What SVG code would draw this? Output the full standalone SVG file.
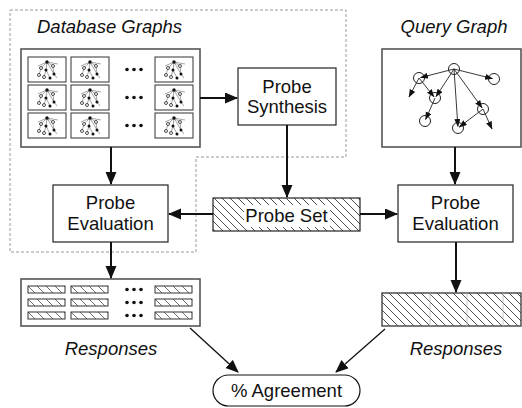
<svg xmlns="http://www.w3.org/2000/svg" xmlns:xlink="http://www.w3.org/1999/xlink" width="522" height="408" viewBox="0 0 522 408">
<style>
text{font-family:"Liberation Sans",Arial,sans-serif;font-size:18.5px;fill:#111}
.it{font-style:italic}
.box{fill:#fff;stroke:#222;stroke-width:1.2}
.gbox{fill:#fff;stroke:#555;stroke-width:1.6}
.tb{fill:#fff;stroke:#333;stroke-width:1}
.arr{stroke:#111;stroke-width:2;fill:none;marker-end:url(#ah)}
.arr2{stroke:#111;stroke-width:1.3;fill:none;marker-end:url(#ah)}
.qe{stroke:#222;stroke-width:0.9;fill:none;marker-end:url(#qa)}
.qn{fill:none;stroke:#222;stroke-width:1}
.te{stroke:#666;stroke-width:0.6;fill:none}
.dot{fill:#111}
</style>
<defs>
<marker id="ah" markerUnits="userSpaceOnUse" markerWidth="13" markerHeight="12" refX="12" refY="5.5" orient="auto"><path d="M0,0 L13,5.5 L0,11 z" fill="#111"/></marker>
<marker id="qa" markerUnits="userSpaceOnUse" markerWidth="8" markerHeight="7" refX="7.5" refY="3" orient="auto"><path d="M0,0 L8,3 L0,6 z" fill="#111"/></marker>
<pattern id="hatch" width="8" height="8" patternUnits="userSpaceOnUse"><path d="M-1,-1 L9,9 M-1,7 L1,9 M7,-1 L9,1" stroke="#222" stroke-width="0.8"/></pattern>
<pattern id="hatch2" width="9" height="9" patternUnits="userSpaceOnUse"><path d="M-1,-1 L10,10 M-1,8 L1,10 M8,-1 L10,1" stroke="#333" stroke-width="0.7"/></pattern>
<g id="thumb">
<rect class="tb" x="0" y="0" width="38" height="25"/>
<path class="te" d="M19,5 L13,11 M19,5 L25,9 M19,5 L18,13 M19,5 L26,17 M19,5 L10,9 M19,5 L30,7 M13,11 L11,18 M18,13 L16,20 M25,9 L26,17 M18,13 L22,21 M26,17 L29,21"/>
<circle cx="19" cy="5" r="1.7" class="dot"/>
<circle cx="13" cy="11" r="1.5" fill="#fff" stroke="#222" stroke-width="0.8"/>
<circle cx="25" cy="9" r="1.5" fill="#fff" stroke="#222" stroke-width="0.8"/>
<circle cx="18" cy="13" r="1.5" class="dot"/>
<circle cx="26" cy="17" r="1.5" class="dot"/>
<circle cx="11" cy="18" r="1.5" fill="#fff" stroke="#222" stroke-width="0.8"/>
<circle cx="16" cy="20" r="1.5" fill="#fff" stroke="#222" stroke-width="0.8"/>
<circle cx="22" cy="21" r="1.5" class="dot"/>
</g>
<g id="rbar">
<rect x="0" y="0" width="37" height="7" fill="url(#hatch2)" stroke="#333" stroke-width="1"/>
</g>
<g id="dots3">
<circle cx="0" cy="0" r="1.8" class="dot"/><circle cx="7" cy="0" r="1.8" class="dot"/><circle cx="14" cy="0" r="1.8" class="dot"/>
</g>
</defs>

<g id="region">
<path d="M10,10 H346 V157 H196 V252 H10 Z" fill="none" stroke="#999" stroke-width="1" stroke-dasharray="3,2"/>
</g>

<g id="database-graphs">
<text class="it" x="37" y="33">Database Graphs</text>
<rect class="gbox" x="21" y="49" width="179" height="98"/>
<use xlink:href="#thumb" x="28" y="57"/><use xlink:href="#thumb" x="71" y="57"/><use xlink:href="#thumb" x="155" y="57"/>
<use xlink:href="#thumb" x="28" y="85"/><use xlink:href="#thumb" x="71" y="85"/><use xlink:href="#thumb" x="155" y="85"/>
<use xlink:href="#thumb" x="28" y="113"/><use xlink:href="#thumb" x="71" y="113"/><use xlink:href="#thumb" x="155" y="113"/>
<use xlink:href="#dots3" x="127" y="69.5"/><use xlink:href="#dots3" x="127" y="97.5"/><use xlink:href="#dots3" x="127" y="125.5"/>
</g>

<g id="probe-synthesis">
<rect class="box" x="238" y="68" width="98" height="57"/>
<text x="287" y="93" text-anchor="middle">Probe</text>
<text x="287" y="113" text-anchor="middle">Synthesis</text>
</g>

<g id="query-graph">
<text class="it" x="454" y="33" text-anchor="middle">Query Graph</text>
<rect class="gbox" x="382" y="49" width="139" height="98"/>
<circle class="qn" cx="454" cy="69" r="5.5"/>
<circle class="qn" cx="419" cy="78" r="5.5"/>
<circle class="qn" cx="494" cy="79" r="5.5"/>
<circle class="qn" cx="435" cy="98" r="5.5"/>
<circle class="qn" cx="425" cy="121" r="5.5"/>
<circle class="qn" cx="458" cy="128" r="5.5"/>
<circle class="qn" cx="483" cy="109" r="5.5"/>
<path class="qe" d="M454,69 L420.5,77.6"/>
<path class="qe" d="M454,69 L492.5,78.6"/>
<path class="qe" d="M454,69 L436,96.7"/>
<path class="qe" d="M454,69 L457.9,126.5"/>
<path class="qe" d="M454,69 L482.1,107.8"/>
<path class="qe" d="M419,78 L434,96.8"/>
<path class="qe" d="M435,98 L425.6,119.6"/>
<path class="qe" d="M483,109 L459.2,127.1"/>
<path class="qe" d="M419,78 L409,97"/>
<path class="qe" d="M483,109 L492,129"/>
</g>

<g id="probe-set">
<rect x="213" y="198" width="147" height="33" fill="url(#hatch)" stroke="#222" stroke-width="1.2"/>
<rect x="244" y="205" width="86" height="22" fill="#fff"/>
<text x="286.5" y="222" text-anchor="middle">Probe Set</text>
</g>

<g id="probe-evaluation-left">
<rect class="box" x="53" y="185" width="115" height="57"/>
<text x="110.5" y="209" text-anchor="middle">Probe</text>
<text x="110.5" y="230" text-anchor="middle">Evaluation</text>
</g>

<g id="probe-evaluation-right">
<rect class="box" x="398" y="185" width="115" height="57"/>
<text x="455.5" y="209" text-anchor="middle">Probe</text>
<text x="455.5" y="230" text-anchor="middle">Evaluation</text>
</g>

<g id="responses-left">
<rect class="gbox" x="21" y="279" width="179" height="47"/>
<use xlink:href="#rbar" x="28" y="286"/><use xlink:href="#rbar" x="71" y="286"/><use xlink:href="#rbar" x="155" y="286"/>
<use xlink:href="#rbar" x="28" y="299"/><use xlink:href="#rbar" x="71" y="299"/><use xlink:href="#rbar" x="155" y="299"/>
<use xlink:href="#rbar" x="28" y="312"/><use xlink:href="#rbar" x="71" y="312"/><use xlink:href="#rbar" x="155" y="312"/>
<use xlink:href="#dots3" x="127" y="289.5"/><use xlink:href="#dots3" x="127" y="302.5"/><use xlink:href="#dots3" x="127" y="315.5"/>
<text class="it" x="111" y="355" text-anchor="middle">Responses</text>
</g>

<g id="responses-right">
<rect x="382" y="293" width="139" height="33" fill="url(#hatch)" stroke="#444" stroke-width="1.4"/>
<path d="M430,293 V326 M467,293 V326 M503,293 V326" stroke="#bbb" stroke-width="0.8"/>
<text class="it" x="456" y="355" text-anchor="middle">Responses</text>
</g>

<g id="agreement">
<rect x="213" y="375" width="147" height="31" rx="15.5" fill="#fff" stroke="#111" stroke-width="1.2"/>
<text x="286.5" y="397" text-anchor="middle">% Agreement</text>
</g>

<g id="connectors">
<path class="arr" d="M200,98 H237"/>
<path class="arr" d="M111,147 V184"/>
<path class="arr" d="M287,125 V197"/>
<path class="arr" d="M213,214 H169"/>
<path class="arr" d="M360,214 H397"/>
<path class="arr" d="M455,147 V184"/>
<path class="arr" d="M111,242 V278"/>
<path class="arr" d="M456,242 V292"/>
<path class="arr2" d="M190,328 L238,372"/>
<path class="arr2" d="M385,329 L336,372"/>
</g>
</svg>
